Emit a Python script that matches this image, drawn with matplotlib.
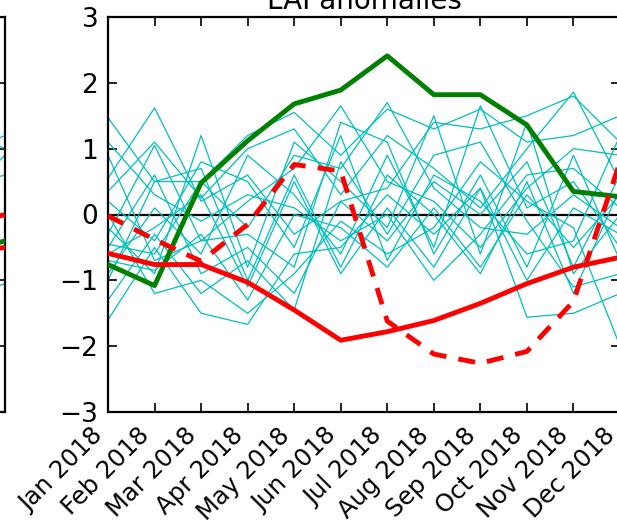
import matplotlib
matplotlib.use("Agg")
import matplotlib.pyplot as plt
import numpy as np

months = ["Jan 2018", "Feb 2018", "Mar 2018", "Apr 2018", "May 2018", "Jun 2018",
          "Jul 2018", "Aug 2018", "Sep 2018", "Oct 2018", "Nov 2018", "Dec 2018"]

# ensemble members (thin cyan)
members = [
    [1.47, 0.5, 0.5, 1.2, 1.55, 0.9, 1.6, 1.3, 1.6, 1.1, 1.2, 1.5],
    [0.55, 1.62, 0.2, 0.6, -0.3, 0.2, 0.4, 1.4, 1.3, 1.5, 1.8, 1.1],
    [0.35, 1.1, 0.25, 1.0, 1.3, 0.3, 1.2, 0.7, 0.1, 1.0, 1.86, 0.5],
    [-0.3, 1.05, -0.4, 0.2, 0.7, 1.65, 0.5, 0.2, -0.5, 0.4, 1.0, 0.9],
    [-0.45, -0.6, 0.5, -0.2, 0.9, 0.7, 1.7, 0.4, -0.2, -0.3, 0.3, -0.2],
    [-0.5, 0.6, -0.9, -0.5, -1.2, 0.2, -0.4, 0.5, 0.0, 0.8, -0.8, 0.6],
    [-0.6, -0.2, 0.3, -1.1, 0.5, -0.9, 0.1, -0.8, 0.4, -1.0, 0.1, -0.3],
    [-0.7, -0.85, -0.3, -1.3, 0.0, -0.2, -0.8, 0.1, -0.8, 0.3, -0.5, 0.3],
    [-1.3, -0.3, -1.2, -0.7, -1.45, 0.8, -0.3, 0.9, 1.1, -0.1, -1.1, -0.9],
    [-1.6, -0.5, -1.5, -1.67, -0.6, -0.5, 0.3, -0.3, 0.4, -1.56, -1.5, -1.2],
    [0.0, -1.2, -1.0, -1.5, -0.9, -0.1, -0.6, -0.2, 0.8, 0.2, -0.2, -2.0],
    [1.1, 0.3, -0.1, 0.3, 0.1, -0.4, 0.0, -1.0, -0.3, 0.6, 0.7, 0.1],
    [0.2, -0.4, 0.8, 0.5, -0.5, 1.2, -0.7, 0.6, 0.2, -0.6, -0.4, 1.2],
    [-0.9, 0.1, -0.6, 0.9, 0.3, -0.6, 0.9, -0.5, 1.65, 0.1, 0.5, -0.5],
    [-0.2, -0.9, 1.2, -0.8, 1.1, 0.5, -0.2, 1.5, -0.6, 1.4, -0.9, 0.0],
    [0.9, -0.7, -0.4, -0.3, -0.8, 1.4, 1.1, -0.6, 0.6, -0.8, 0.9, -0.7],
    [-1.0, 0.5, 0.7, -1.0, 0.6, -0.8, 0.6, 0.0, -0.9, 0.5, -1.2, 0.4],
]
green = [-0.76, -1.08, 0.48, 1.12, 1.68, 1.89, 2.41, 1.82, 1.82, 1.36, 0.35, 0.27]
red = [-0.59, -0.76, -0.76, -1.03, -1.45, -1.91, -1.78, -1.61, -1.35, -1.05, -0.80, -0.65]
red_dash = [-0.02, -0.38, -0.71, -0.15, 0.76, 0.66, -1.62, -2.12, -2.26, -2.08, -1.32, 0.8]

# neighbouring panel (only its right edge is visible)
left_members = [
    [0.3, 0.8, 0.2, 0.9, 0.5, 1.0, 0.4, 0.7, 0.6, 0.3, 0.9, 1.2],
    [-0.2, 0.5, 0.6, -0.1, 0.3, 0.9, 0.2, 0.1, 0.8, 0.5, 1.3, 1.0],
    [0.6, 0.1, -0.3, 0.4, 0.2, -0.4, 0.5, 0.3, -0.2, 0.6, 0.2, 0.9],
    [0.1, -0.5, 0.3, 0.6, -0.2, 0.4, -0.1, 0.6, 0.2, 0.0, 0.4, 0.6],
    [-0.8, -0.3, -0.6, -0.9, -0.4, -1.1, -0.7, -0.5, -0.9, -0.6, -1.3, -1.05],
]
left_green = [0.5, 0.9, 1.2, 1.0, 0.6, 0.3, 0.2, -0.1, -0.3, -0.2, -0.6, -0.4]
left_red = [-0.1, -0.3, -0.5, -0.7, -0.6, -0.4, -0.6, -0.5, -0.3, -0.4, -0.6, -0.5]
left_dash = [0.4, 0.2, -0.3, -0.5, -0.2, 0.1, -0.4, -0.3, 0.2, 0.3, -0.2, 0.0]

plt.rcParams["font.family"] = "DejaVu Sans"
W, H = 617, 524
fig = plt.figure(figsize=(W / 100, H / 100), dpi=100)

x = np.arange(len(months))


def style(ax):
    ax.axhline(0, color="k", lw=1.6, zorder=1)
    ax.set_xlim(0, len(months) - 1)
    ax.set_ylim(-3, 3)
    ax.set_yticks([-3, -2, -1, 0, 1, 2, 3])
    ax.set_xticks(x)
    ax.set_xticklabels(months, rotation=45, ha="right")
    ax.tick_params(direction="in", length=6.5, width=1.2,
                   top=True, right=True, pad=7)
    ax.tick_params(axis="y", labelsize=19)
    ax.tick_params(axis="x", labelsize=17.5, pad=8)
    for s in ax.spines.values():
        s.set_linewidth(1.6)


ax0 = fig.add_axes([5 / W - 512 / W, 1 - 412 / H, 512 / W, 395 / H])
for m in left_members:
    ax0.plot(x, m, color="c", lw=0.9, zorder=2)
ax0.plot(x, left_green, color="g", lw=3.5, zorder=3)
ax0.plot(x, left_red, color="r", lw=3.5, zorder=3)
ax0.plot(x, left_dash, color="r", lw=3.5, ls=(0, (3.5, 2.5)), zorder=3)
style(ax0)

ax = fig.add_axes([108 / W, 1 - 412 / H, 512 / W, 395 / H])
for m in members:
    ax.plot(x, m, color="c", lw=0.9, zorder=2)
ax.plot(x, green, color="g", lw=3.5, zorder=3)
ax.plot(x, red, color="r", lw=3.5, zorder=3)
ax.plot(x, red_dash, color="r", lw=3.5, ls=(0, (3.5, 2.5)), zorder=3)
style(ax)
ax.set_title("LAI anomalies", fontsize=20)

fig.savefig("out.png", dpi=100)
